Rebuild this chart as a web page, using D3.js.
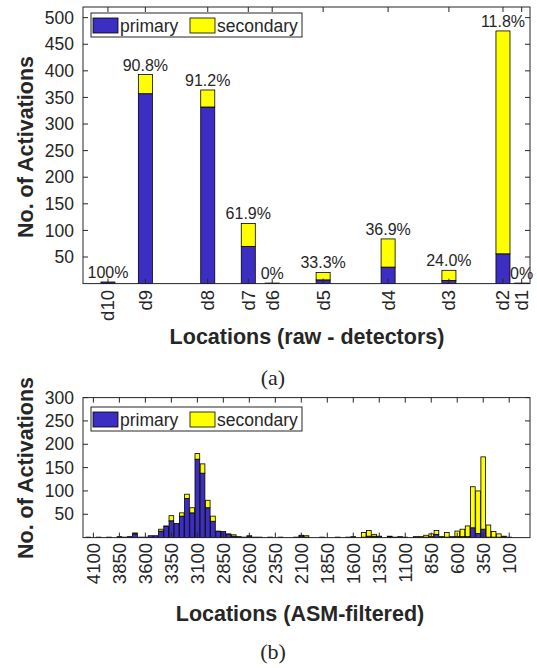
<!DOCTYPE html>
<html><head><meta charset="utf-8">
<script src="https://cdn.jsdelivr.net/npm/d3@7"></script>
<style>
body{margin:0;background:#fff}
svg{display:block}
text{font-family:"Liberation Sans",Arial,Helvetica,sans-serif;fill:#262626}
</style>
</head><body>
<svg id="c" width="537" height="668"></svg>
<script>
// ---------- data: (a) raw detectors ----------
const detectors      = ["d10","d9","d8","d7","d6","d5","d4","d3","d2","d1"];
const detectorPos    = [3960, 3600, 3000, 2610, 2380, 1890, 1265, 680, 160, -20];
const detPrimary     = [3, 357, 332, 70, 0, 7, 31, 6, 56, 0];
const detSecondary   = [0, 36, 32, 43, 1, 14, 53, 19, 419, 1];
const topYTicks      = [50,100,150,200,250,300,350,400,450,500];

// ---------- data: (b) ASM-filtered histogram (bin centres, 50 wide) ----------
const binCenters   = [4150,4050,3950,3850,3800,3750,3700,3650,3600,3550,3500,3450,3400,3350,3300,3250,3200,3150,3100,3050,3000,2950,2900,2850,2800,2750,2700,2650,2600,2550,2500,2400,2300,2150,2100,2050,1900,1750,1650,1600,1500,1450,1400,1350,1250,1200,1150,1100,1000,950,900,850,800,750,700,650,600,550,500,450,400,350,300,250,200,150,100];
const binPrimary   = [1,1,1,2,1,2,8,1,1,4,4,14,24,36,30,46,84,53,168,138,64,35,13,13,7,3,2,1,3,1,1,1,1,1,3,1,1,1,1,2,1,3,3,1,2,1,2,1,1,1,1,2,7,1,1,1,2,2,2,21,9,18,1,1,1,1,0];
const binSecondary = [0,0,0,0,0,0,2,0,0,0,0,4,1,11,0,7,9,11,12,20,16,11,1,0,1,3,0,0,1,0,0,0,0,0,2,3,0,0,0,0,10,12,4,2,1,0,0,0,1,1,4,6,8,1,10,1,12,16,23,88,91,155,26,12,7,2,1];
const bottomXTicks = [4100,3850,3600,3350,3100,2850,2600,2350,2100,1850,1600,1350,1100,850,600,350,100];
const bottomYTicks = [50,100,150,200,250,300];

const seriesNames  = ["primary","secondary"];
const colors       = ["#3d2ec3","#ffff00"];

// ---------- drawing ----------
const svg = d3.select("#c");
const AX = "#262626";
const left = 83, right = 530;

function frame(g, x, y, xTicks, yTicks) {
  const [x0, x1] = x.range(), [yb, yt] = y.range();
  const tl = 5;
  g.append("rect").attr("x", x0).attr("y", yt).attr("width", x1 - x0).attr("height", yb - yt)
    .attr("fill", "none").attr("stroke", AX).attr("stroke-width", 1);
  const tk = g.append("g").attr("stroke", AX).attr("stroke-width", 1);
  xTicks.forEach(v => {
    const px = x(v);
    tk.append("line").attr("x1", px).attr("x2", px).attr("y1", yb).attr("y2", yb - tl);
    tk.append("line").attr("x1", px).attr("x2", px).attr("y1", yt).attr("y2", yt + tl);
  });
  yTicks.forEach(v => {
    const py = y(v);
    tk.append("line").attr("x1", x0).attr("x2", x0 + tl).attr("y1", py).attr("y2", py);
    tk.append("line").attr("x1", x1).attr("x2", x1 - tl).attr("y1", py).attr("y2", py);
  });
  g.append("g").selectAll("text").data(yTicks).join("text")
    .attr("x", x0 - 9).attr("y", d => y(d)).attr("dy", "0.35em")
    .attr("text-anchor", "end").attr("font-size", 17.5).text(d => d);
}

function legend(g, x0, y0) {
  g.append("rect").attr("x", x0).attr("y", y0).attr("width", 211).attr("height", 24)
    .attr("fill", "#fff").attr("stroke", AX).attr("stroke-width", 1);
  const offs = [0, 97];
  seriesNames.forEach((n, i) => {
    g.append("rect").attr("x", x0 + 2 + offs[i]).attr("y", y0 + 5).attr("width", 25).attr("height", 15)
      .attr("fill", colors[i]).attr("stroke", "#000").attr("stroke-width", 0.8);
    g.append("text").attr("x", x0 + 29 + offs[i]).attr("y", y0 + 12.5).attr("dy", "0.35em")
      .attr("font-size", 17.5).text(n);
  });
}

// ===== (a) =====
{
  const g = svg.append("g");
  const x = d3.scaleLinear().domain([4200, -100]).range([left, right]);
  const y = d3.scaleLinear().domain([0, 520]).range([283.6, 7]);
  const bw = 135;
  const rows = detectors.map((d, i) => ({name: d, pos: detectorPos[i], p: detPrimary[i], s: detSecondary[i]}));
  const stack = d3.stack().keys(["p", "s"])(rows);
  stack.forEach((layer, k) => {
    g.append("g").selectAll("rect").data(layer).join("rect")
      .attr("x", d => x(d.data.pos) - (x(0) - x(bw)) / 2)
      .attr("width", x(0) - x(bw))
      .attr("y", d => y(d[1]))
      .attr("height", d => y(d[0]) - y(d[1]))
      .attr("fill", colors[k]).attr("stroke", "#000").attr("stroke-width", 0.8);
  });
  frame(g, x, y, detectorPos, topYTicks);
  g.append("g").selectAll("text").data(rows).join("text")
    .attr("x", d => x(d.pos)).attr("y", d => y(d.p + d.s) - 4)
    .attr("text-anchor", "middle").attr("font-size", 16)
    .text(d => {
      const t = d.p + d.s;
      if (d.p === 0) return "0%";
      if (d.s === 0) return "100%";
      return (100 * d.p / t).toFixed(1) + "%";
    });
  g.append("g").selectAll("text").data(rows).join("text")
    .attr("transform", d => `translate(${x(d.pos)},290) rotate(-90)`)
    .attr("text-anchor", "end").attr("dy", "0.35em").attr("font-size", 18.5).text(d => d.name);
  legend(g, 91, 13);
  g.append("text").attr("transform", "translate(33,147) rotate(-90)").attr("text-anchor", "middle")
    .attr("font-size", 21.5).attr("font-weight", "bold").text("No. of Activations");
  g.append("text").attr("x", 307).attr("y", 344).attr("text-anchor", "middle")
    .attr("font-size", 21.5).attr("font-weight", "bold").text("Locations (raw - detectors)");
  g.append("text").attr("x", 273).attr("y", 385).attr("text-anchor", "middle")
    .attr("font-size", 22).style("font-family", "'Liberation Serif','Times New Roman',serif").text("(a)");
}

// ===== (b) =====
{
  const g = svg.append("g");
  const x = d3.scaleLinear().domain([4200, -100]).range([left, right]);
  const y = d3.scaleLinear().domain([0, 300]).range([537.6, 397.6]);
  const bw = 45;
  const rows = binCenters.map((c, i) => ({c, p: binPrimary[i], s: binSecondary[i]}));
  const stack = d3.stack().keys(["p", "s"])(rows);
  const w = x(0) - x(bw);
  stack.forEach((layer, k) => {
    g.append("g").selectAll("rect").data(layer.filter(d => d[1] > d[0])).join("rect")
      .attr("x", d => x(d.data.c) - w / 2)
      .attr("width", w)
      .attr("y", d => y(d[1]))
      .attr("height", d => y(d[0]) - y(d[1]))
      .attr("fill", colors[k]).attr("stroke", "#000").attr("stroke-width", 0.8);
  });
  frame(g, x, y, bottomXTicks, bottomYTicks);
  g.append("g").selectAll("text").data(bottomXTicks).join("text")
    .attr("transform", d => `translate(${x(d)},543) rotate(-90)`)
    .attr("text-anchor", "end").attr("dy", "0.35em").attr("font-size", 18.5).text(d => d);
  legend(g, 91, 407);
  g.append("text").attr("transform", "translate(33,468) rotate(-90)").attr("text-anchor", "middle")
    .attr("font-size", 21.5).attr("font-weight", "bold").text("No. of Activations");
  g.append("text").attr("x", 300).attr("y", 621).attr("text-anchor", "middle")
    .attr("font-size", 21.5).attr("font-weight", "bold").text("Locations (ASM-filtered)");
  g.append("text").attr("x", 273).attr("y", 659).attr("text-anchor", "middle")
    .attr("font-size", 22).style("font-family", "'Liberation Serif','Times New Roman',serif").text("(b)");
}
</script>
</body></html>
